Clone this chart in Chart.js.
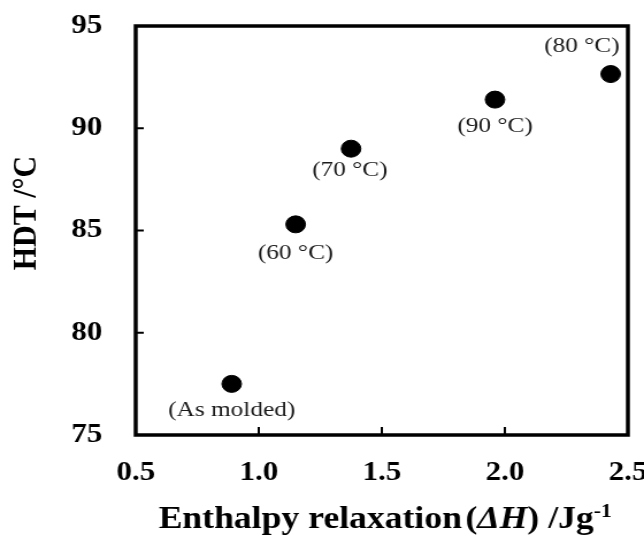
<!DOCTYPE html>
<html>
<head>
<meta charset="utf-8">
<script src="https://cdn.jsdelivr.net/npm/chart.js@4.4.1/dist/chart.umd.min.js"></script>
<style>
  body { margin: 0; background: #fff; }
</style>
</head>
<body>
<canvas id="graph" width="560" height="535" style="width:644px;height:535px;display:block"></canvas>
<script>
// enthalpy relaxation vs. heat deflection temperature
var sampleNames = ['(As molded)', '(60 °C)', '(70 °C)', '(90 °C)', '(80 °C)'];
var enthalpyDH = [0.89, 1.15, 1.375, 1.96, 2.43];
var hdtValues = [77.5, 85.3, 89.0, 91.4, 92.65];
var xTicks = [0.5, 1.0, 1.5, 2.0, 2.5];
var yTicks = [75, 80, 85, 90, 95];

// where each sample name sits relative to its marker
var labelOffsets = [[0, 26], [0, 29], [-1, 22], [0, 27], [-25, -28]];

var serif = "'Liberation Serif', 'Times New Roman', serif";
var ink = '#000';

const points = enthalpyDH.map(function (x, i) {
  return { x: x, y: hdtValues[i] };
});

// box round the plot + short inward ticks
const framePlugin = {
  id: 'frame',
  afterDraw: function (chart) {
    const ctx = chart.ctx;
    const a = chart.chartArea;
    const xs = chart.scales.x;
    const ys = chart.scales.y;
    ctx.save();
    ctx.strokeStyle = ink;
    ctx.lineWidth = 2;
    xTicks.slice(1, -1).forEach(function (v) {
      const px = xs.getPixelForValue(v);
      ctx.beginPath();
      ctx.moveTo(px, a.bottom);
      ctx.lineTo(px, a.bottom - 8);
      ctx.stroke();
    });
    yTicks.slice(1, -1).forEach(function (v) {
      const py = ys.getPixelForValue(v);
      ctx.beginPath();
      ctx.moveTo(a.left, py);
      ctx.lineTo(a.left + 7, py);
      ctx.stroke();
    });
    ctx.lineWidth = 3.5;
    ctx.strokeRect(a.left, a.top, a.right - a.left, a.bottom - a.top);
    ctx.restore();
  }
};

const labelPlugin = {
  id: 'sampleLabels',
  afterDatasetsDraw: function (chart) {
    const ctx = chart.ctx;
    const meta = chart.getDatasetMeta(0);
    ctx.save();
    ctx.font = '22px ' + serif;
    ctx.fillStyle = '#1a1a1a';
    ctx.textAlign = 'center';
    ctx.textBaseline = 'middle';
    meta.data.forEach(function (pt, i) {
      ctx.fillText(sampleNames[i], pt.x + labelOffsets[i][0], pt.y + labelOffsets[i][1]);
    });
    ctx.restore();
  }
};

// axis titles, the x one needs italic and a superscript
const titlePlugin = {
  id: 'axisTitles',
  afterDraw: function (chart) {
    const ctx = chart.ctx;
    const a = chart.chartArea;
    ctx.save();
    ctx.fillStyle = ink;
    ctx.textBaseline = 'alphabetic';

    ctx.translate(31, 213);
    ctx.rotate(-Math.PI / 2);
    ctx.textAlign = 'center';
    ctx.font = 'bold 30px ' + serif;
    ctx.fillText('HDT /°C', 0, 0);
    ctx.setTransform(1, 0, 0, 1, 0, 0);

    const runs = [
      { t: 'Enthalpy relaxation', f: 'bold 31px ' + serif, dy: 0, gap: 3 },
      { t: '(', f: 'bold 31px ' + serif, dy: 0, gap: 0 },
      { t: 'ΔH', f: 'italic bold 31px ' + serif, dy: 0, gap: 0 },
      { t: ') /Jg', f: 'bold 31px ' + serif, dy: 0, gap: 0 },
      { t: '-1', f: 'bold 19px ' + serif, dy: -11, gap: 0 }
    ];
    ctx.textAlign = 'left';
    var total = 0;
    runs.forEach(function (r) {
      ctx.font = r.f;
      r.w = ctx.measureText(r.t).width;
      total += r.w + r.gap;
    });
    var x = (a.left + a.right) / 2 + 3 - total / 2;
    runs.forEach(function (r) {
      ctx.font = r.f;
      ctx.fillText(r.t, x, 528 + r.dy);
      x += r.w + r.gap;
    });
    ctx.restore();
  }
};

const config = {
  type: 'scatter',
  data: {
    datasets: [{
      data: points,
      backgroundColor: ink,
      borderColor: ink,
      pointRadius: 8.5,
      pointHoverRadius: 8.5
    }]
  },
  options: {
    responsive: false,
    animation: false,
    devicePixelRatio: 1,
    layout: { padding: { top: 26, right: 14, left: 0, bottom: 0 } },
    plugins: {
      legend: { display: false },
      tooltip: { enabled: false }
    },
    scales: {
      x: {
        type: 'linear',
        min: xTicks[0],
        max: xTicks[xTicks.length - 1],
        afterBuildTicks: function (s) { s.ticks = xTicks.map(function (v) { return { value: v }; }); },
        ticks: {
          color: ink,
          padding: 22,
          font: { family: serif, size: 27, weight: 'bold' },
          callback: function (v) { return Number(v).toFixed(1); }
        },
        grid: { display: false, drawTicks: false },
        border: { display: false },
        afterFit: function (s) { s.height = 100; s.paddingLeft = 0; s.paddingRight = 0; }
      },
      y: {
        min: yTicks[0],
        max: yTicks[yTicks.length - 1],
        afterBuildTicks: function (s) { s.ticks = yTicks.map(function (v) { return { value: v }; }); },
        ticks: {
          color: ink,
          padding: 29,
          font: { family: serif, size: 27, weight: 'bold' }
        },
        grid: { display: false, drawTicks: false },
        border: { display: false },
        afterFit: function (s) { s.width = 118; s.paddingTop = 0; s.paddingBottom = 0; }
      }
    }
  },
  plugins: [framePlugin, labelPlugin, titlePlugin]
};

var myChart = new Chart(document.getElementById('graph'), config);
</script>
</body>
</html>
